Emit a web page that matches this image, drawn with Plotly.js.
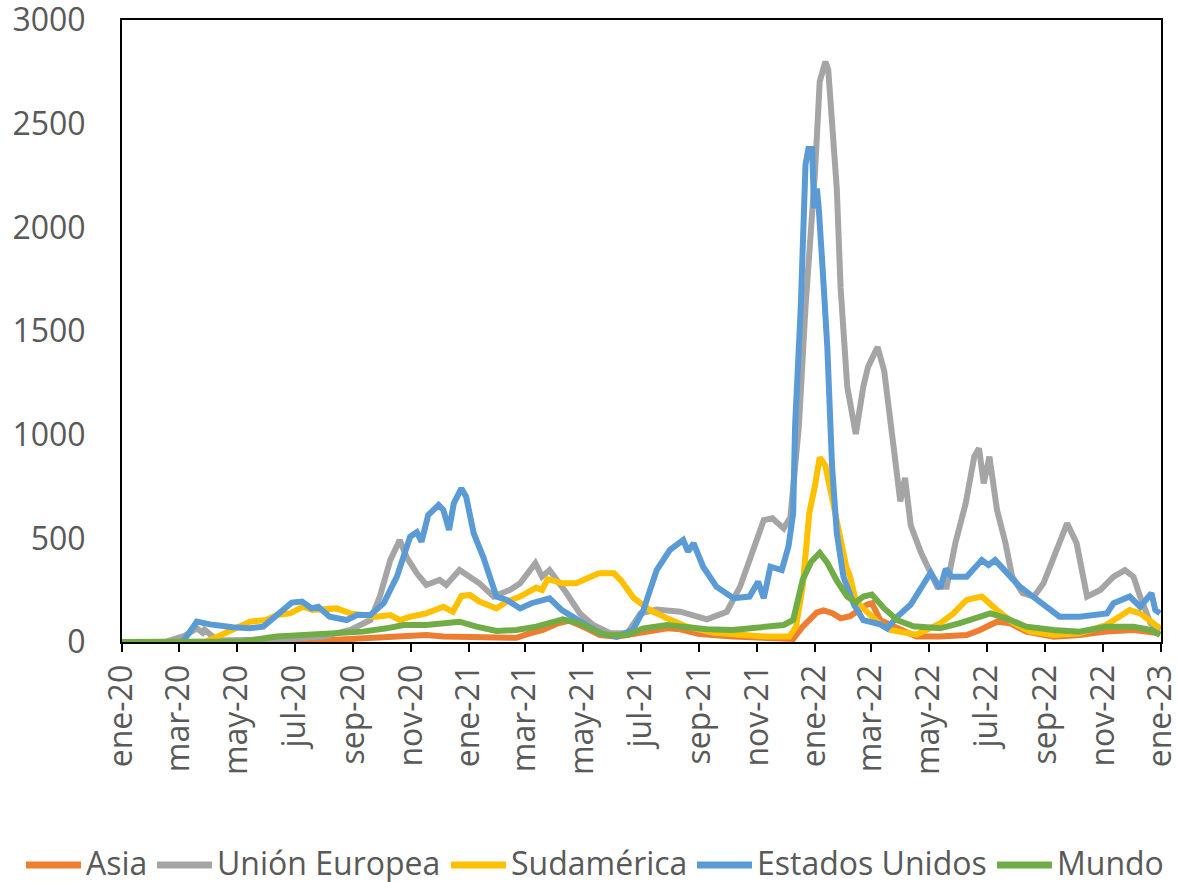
<!DOCTYPE html>
<html>
<head>
<meta charset="utf-8">
<script src="https://cdn.plot.ly/plotly-3.0.1.min.js"></script>
<style>html,body{margin:0;padding:0;background:#fff;}</style>
</head>
<body>
<div id="chart" style="width:1178px;height:882px;"></div>
<script>
const seriesNames = ['Asia', 'Unión Europea', 'Sudamérica', 'Estados Unidos', 'Mundo'];
const seriesColors = ['#ED7D31', '#A5A5A5', '#FFC000', '#5B9BD5', '#70AD47'];

const asiaDates = ['2020-01-01','2020-07-10','2020-08-18','2020-10-31','2020-11-17','2020-12-05','2021-01-12','2021-02-20','2021-03-06','2021-03-20','2021-04-05','2021-04-17','2021-05-05','2021-05-19','2021-06-06','2021-07-01','2021-07-29','2021-08-12','2021-09-01','2021-10-06','2021-11-11','2021-12-09','2021-12-19','2022-01-03','2022-01-10','2022-01-20','2022-01-28','2022-02-07','2022-02-25','2022-03-02','2022-03-11','2022-04-01','2022-04-18','2022-05-13','2022-06-10','2022-06-24','2022-07-12','2022-07-26','2022-08-12','2022-09-10','2022-10-07','2022-11-04','2022-12-03','2022-12-31'];
const asiaValues = [0,2,12,26,34,26,20,20,42,58,90,103,66,34,26,42,66,61,39,26,20,15,74,143,152,138,114,124,181,187,105,58,26,26,34,58,98,90,50,26,34,50,58,42];

const ueDates = ['2020-01-01','2020-02-15','2020-03-07','2020-03-20','2020-03-26','2020-03-28','2020-04-10','2020-04-24','2020-06-26','2020-07-31','2020-08-29','2020-09-19','2020-09-29','2020-10-10','2020-10-20','2020-10-27','2020-11-07','2020-11-17','2020-12-01','2020-12-08','2020-12-22','2021-01-02','2021-01-12','2021-01-27','2021-02-13','2021-02-24','2021-03-12','2021-03-19','2021-03-27','2021-04-14','2021-04-28','2021-05-12','2021-05-30','2021-06-17','2021-07-01','2021-07-18','2021-08-12','2021-09-09','2021-09-30','2021-10-14','2021-10-28','2021-11-08','2021-11-17','2021-11-29','2021-12-06','2021-12-15','2021-12-22','2021-12-27','2022-01-01','2022-01-06','2022-01-12','2022-01-15','2022-01-20','2022-01-24','2022-01-28','2022-02-04','2022-02-13','2022-02-21','2022-02-26','2022-03-08','2022-03-15','2022-03-22','2022-03-29','2022-04-01','2022-04-06','2022-04-12','2022-04-23','2022-05-01','2022-05-10','2022-05-20','2022-05-29','2022-06-09','2022-06-18','2022-06-23','2022-06-28','2022-07-04','2022-07-12','2022-07-21','2022-07-28','2022-08-08','2022-08-20','2022-08-30','2022-09-10','2022-09-24','2022-10-04','2022-10-15','2022-10-29','2022-11-12','2022-11-24','2022-12-03','2022-12-10','2022-12-21','2022-12-31'];
const ueValues = [0,0,30,66,45,59,10,8,15,26,58,106,219,395,492,411,331,275,299,275,347,315,283,219,251,283,380,315,347,235,138,82,42,42,138,157,146,109,146,267,444,588,597,548,601,1041,1614,1920,2264,2703,2799,2760,2474,2187,1710,1232,1003,1232,1327,1423,1308,1041,812,678,792,563,429,353,267,267,476,669,894,934,765,894,637,476,315,235,219,283,411,572,476,219,251,315,347,315,219,90,58];

const sudDates = ['2020-01-01','2020-03-28','2020-04-03','2020-05-01','2020-05-15','2020-06-01','2020-06-12','2020-06-26','2020-07-10','2020-07-20','2020-08-14','2020-08-29','2020-09-11','2020-09-25','2020-10-10','2020-10-20','2020-10-31','2020-11-17','2020-12-05','2020-12-15','2020-12-24','2021-01-02','2021-01-12','2021-01-30','2021-02-10','2021-02-24','2021-03-13','2021-03-19','2021-03-25','2021-04-10','2021-04-24','2021-05-05','2021-05-18','2021-06-03','2021-06-10','2021-06-24','2021-07-11','2021-07-29','2021-08-19','2021-09-16','2021-10-14','2021-11-11','2021-12-05','2021-12-12','2021-12-19','2021-12-26','2022-01-01','2022-01-06','2022-01-12','2022-01-17','2022-01-24','2022-01-28','2022-02-03','2022-02-07','2022-02-13','2022-02-21','2022-03-03','2022-03-11','2022-03-21','2022-04-07','2022-04-18','2022-05-13','2022-05-27','2022-06-10','2022-06-26','2022-07-12','2022-07-30','2022-08-16','2022-09-10','2022-10-07','2022-11-04','2022-11-18','2022-11-29','2022-12-10','2022-12-31'];
const sudValues = [0,0,10,66,98,106,130,138,170,154,162,138,130,122,130,106,122,138,170,146,222,227,195,162,195,219,262,251,303,283,283,307,331,331,299,211,154,114,74,45,34,26,26,74,267,621,754,890,850,735,588,506,363,315,200,162,122,85,58,42,35,90,138,203,219,154,90,50,34,42,82,122,154,138,66];

const eeuuDates = ['2020-01-01','2020-03-05','2020-03-20','2020-04-03','2020-04-27','2020-05-15','2020-05-29','2020-06-12','2020-06-28','2020-07-09','2020-07-19','2020-07-26','2020-08-07','2020-08-25','2020-09-05','2020-09-19','2020-10-03','2020-10-17','2020-10-31','2020-11-07','2020-11-12','2020-11-19','2020-11-30','2020-12-05','2020-12-11','2020-12-16','2020-12-24','2020-12-29','2021-01-06','2021-01-16','2021-01-30','2021-02-10','2021-02-24','2021-03-08','2021-03-24','2021-03-27','2021-04-09','2021-05-02','2021-05-19','2021-06-06','2021-06-23','2021-07-04','2021-07-18','2021-08-01','2021-08-15','2021-08-20','2021-08-26','2021-09-05','2021-09-19','2021-10-07','2021-10-24','2021-11-02','2021-11-08','2021-11-15','2021-11-27','2021-12-04','2021-12-09','2021-12-11','2021-12-17','2021-12-22','2021-12-25','2021-12-29','2021-12-31','2022-01-03','2022-01-05','2022-01-09','2022-01-14','2022-01-19','2022-01-24','2022-01-31','2022-02-11','2022-02-21','2022-03-11','2022-03-18','2022-03-29','2022-04-12','2022-04-26','2022-05-03','2022-05-13','2022-05-19','2022-05-25','2022-06-10','2022-06-26','2022-07-03','2022-07-10','2022-07-22','2022-08-05','2022-08-19','2022-09-02','2022-09-16','2022-10-07','2022-11-05','2022-11-12','2022-11-29','2022-12-10','2022-12-22','2022-12-26','2022-12-31'];
const eeuuValues = [0,0,98,85,71,66,74,130,190,195,162,170,122,106,130,130,187,315,508,530,484,612,661,637,540,669,741,701,524,411,219,203,162,187,211,211,154,90,42,26,58,154,347,444,492,436,476,363,267,211,219,291,211,363,347,460,621,1041,1614,2302,2378,2378,2092,2187,2092,1805,1423,850,525,315,181,105,85,66,123,181,276,334,258,353,315,315,395,371,395,331,267,219,170,122,122,138,187,219,170,235,154,138];

const mundoDates = ['2020-01-01','2020-05-07','2020-06-12','2020-07-31','2020-09-11','2020-10-06','2020-10-24','2020-11-17','2020-12-05','2020-12-22','2021-01-09','2021-01-30','2021-02-20','2021-03-13','2021-04-10','2021-04-28','2021-05-12','2021-05-26','2021-06-17','2021-07-04','2021-07-29','2021-08-19','2021-09-09','2021-10-06','2021-11-04','2021-11-29','2021-12-09','2021-12-19','2021-12-28','2022-01-06','2022-01-14','2022-01-24','2022-02-04','2022-02-13','2022-02-21','2022-03-02','2022-03-15','2022-03-29','2022-04-15','2022-05-13','2022-06-02','2022-06-18','2022-07-05','2022-07-22','2022-08-12','2022-09-10','2022-10-07','2022-11-04','2022-12-03','2022-12-21','2022-12-31'];
const mundoValues = [0,2,26,42,50,66,82,82,90,98,74,53,58,74,109,90,58,34,34,66,82,74,61,58,74,82,106,299,387,430,382,296,219,191,219,229,162,105,76,66,90,114,138,114,74,58,50,74,74,58,34];

const tickDates = ['2020-01-01','2020-03-01','2020-05-01','2020-07-01','2020-09-01','2020-11-01','2021-01-01','2021-03-01','2021-05-01','2021-07-01','2021-09-01','2021-11-01','2022-01-01','2022-03-01','2022-05-01','2022-07-01','2022-09-01','2022-11-01','2023-01-01'];
const tickLabels = ['ene-20','mar-20','may-20','jul-20','sep-20','nov-20','ene-21','mar-21','may-21','jul-21','sep-21','nov-21','ene-22','mar-22','may-22','jul-22','sep-22','nov-22','ene-23'];
const yTickValues = [0, 500, 1000, 1500, 2000, 2500, 3000];

const xs = [asiaDates, ueDates, sudDates, eeuuDates, mundoDates];
const ys = [asiaValues, ueValues, sudValues, eeuuValues, mundoValues];

// figure geometry (pixels)
const W = 1178, H = 882;
const M = {l: 122, r: 17, t: 20, b: 240};
const plotW = W - M.l - M.r, plotH = H - M.t - M.b;
const px2paperX = p => (p - M.l) / plotW;
const px2paperY = p => (H - M.b - p) / plotH;

// legend layout (pixels): left edge of each entry's line symbol
const legendStarts = [26, 157, 451, 697, 997];
const legendSymbolLen = 55;
const legendTextGap = 4;
const legendLineY = 865;
const legendTextY = 862;

const traces = seriesNames.map((name, i) => ({
  type: 'scatter',
  mode: 'lines',
  name: name,
  x: xs[i],
  y: ys[i],
  line: {color: seriesColors[i], width: 6}
}));

const legendShapes = seriesNames.map((name, i) => ({
  type: 'line',
  xref: 'paper', yref: 'paper',
  x0: px2paperX(legendStarts[i]), x1: px2paperX(legendStarts[i] + legendSymbolLen),
  y0: px2paperY(legendLineY), y1: px2paperY(legendLineY),
  line: {color: seriesColors[i], width: 7}
}));

const legendAnnotations = seriesNames.map((name, i) => ({
  xref: 'paper', yref: 'paper',
  x: px2paperX(legendStarts[i] + legendSymbolLen + legendTextGap),
  y: px2paperY(legendTextY),
  xanchor: 'left', yanchor: 'middle',
  text: name,
  showarrow: false,
  borderpad: 0,
  font: {size: 32, color: '#595959'}
}));

const layout = {
  width: W,
  height: H,
  margin: M,
  paper_bgcolor: '#ffffff',
  plot_bgcolor: '#ffffff',
  font: {family: '"Open Sans", "Liberation Sans", sans-serif', color: '#595959', size: 32},
  showlegend: false,
  hovermode: false,
  shapes: legendShapes,
  annotations: legendAnnotations,
  xaxis: {
    type: 'date',
    range: ['2020-01-01', '2023-01-01'],
    tickmode: 'array',
    tickvals: tickDates,
    ticktext: tickLabels,
    tickangle: -90,
    ticks: 'outside',
    ticklen: 8,
    tickwidth: 2,
    tickcolor: '#000000',
    showline: true,
    linecolor: '#000000',
    linewidth: 2,
    mirror: true,
    showgrid: false,
    zeroline: false,
    ticklabeloverflow: 'allow',
    tickfont: {size: 32, color: '#595959'}
  },
  yaxis: {
    range: [0, 3000],
    tickmode: 'array',
    tickvals: yTickValues,
    ticktext: yTickValues.map(String),
    ticks: '',
    showline: true,
    linecolor: '#000000',
    linewidth: 2,
    mirror: true,
    showgrid: false,
    zeroline: false,
    ticklabelstandoff: 28,
    ticklabeloverflow: 'allow',
    tickfont: {size: 32, color: '#595959'}
  }
};

Plotly.newPlot('chart', traces, layout, {staticPlot: true, displayModeBar: false});
</script>
</body>
</html>
